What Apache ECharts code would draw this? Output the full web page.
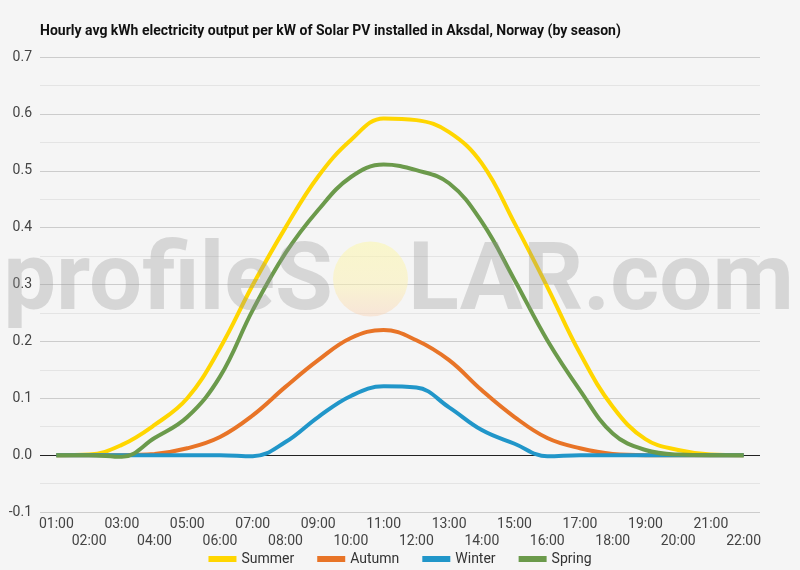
<!DOCTYPE html>
<html>
<head>
<meta charset="utf-8">
<script src="https://cdn.jsdelivr.net/npm/echarts@6/dist/echarts.min.js"></script>
<style>
html,body{margin:0;padding:0;background:#f5f5f5;}
#chart{width:800px;height:570px;}
</style>
</head>
<body>
<div id="chart"></div>
<script>
const hours = ['01:00','02:00','03:00','04:00','05:00','06:00','07:00','08:00','09:00','10:00','11:00',
  '12:00','13:00','14:00','15:00','16:00','17:00','18:00','19:00','20:00','21:00','22:00'];
const summer = [0, 0.001, 0.018, 0.053, 0.10, 0.188, 0.299, 0.40, 0.49, 0.554, 0.592,
  0.589, 0.568, 0.513, 0.408, 0.296, 0.179, 0.085, 0.028, 0.009, 0.001, 0];
const autumn = [0, 0, 0, 0.002, 0.012, 0.032, 0.07, 0.12, 0.167, 0.206, 0.22,
  0.202, 0.167, 0.114, 0.067, 0.03, 0.012, 0.002, 0, 0, 0, 0];
const winter = [0, 0, 0, 0, 0, 0, -0.002, 0.023, 0.067, 0.104, 0.121,
  0.119, 0.084, 0.044, 0.02, -0.002, 0, 0, 0, 0, 0, 0];
const spring = [0, 0, -0.003, 0.03, 0.067, 0.138, 0.255, 0.355, 0.431, 0.489, 0.511,
  0.501, 0.478, 0.41, 0.308, 0.202, 0.114, 0.038, 0.009, 0.001, 0, 0];
const seriesNames = ['Summer','Autumn','Winter','Spring'];
const seriesColors = ['#FFD600','#E87427','#2196C9','#6B9A4B'];
const title = 'Hourly avg kWh electricity output per kW of Solar PV installed in Aksdal, Norway (by season)';

const chart = echarts.init(document.getElementById('chart'));
const data = [summer, autumn, winter, spring];
const series = seriesNames.map((n, i) => ({
  name: n, type: 'line', data: data[i], smooth: 0.4, showSymbol: false, symbol: 'none',
  lineStyle: {width: 4, color: seriesColors[i]}, itemStyle: {color: seriesColors[i]}, z: 3 + i
}));
series.push({
  type: 'line', data: [], silent: true, z: 2,
  markLine: {silent: true, symbol: 'none', label: {show: false},
    lineStyle: {color: '#222', width: 1, type: 'solid'}, data: [{yAxis: 0}]}
});
const wmFont = 'bold 94px Roboto';
const wmFill = 'rgba(150,150,150,0.32)';
chart.setOption({
  backgroundColor: '#f5f5f5',
  animation: false,
  textStyle: {fontFamily: 'Roboto'},
  title: {text: title, left: 35, top: 19,
    textStyle: {fontFamily: 'Roboto', fontWeight: 'bold', fontSize: 14, color: '#111'}},
  grid: {left: 40, right: 40, top: 57, bottom: 58},
  legend: {top: 547, left: 'center', itemWidth: 28, itemHeight: 6, itemGap: 23, icon: 'rect',
    textStyle: {fontFamily: 'Roboto', fontSize: 14, color: '#333'}, data: seriesNames},
  xAxis: {
    type: 'category', data: hours, boundaryGap: true,
    axisLine: {show: false}, axisTick: {show: false},
    axisLabel: {interval: 0, margin: 4, fontFamily: 'Roboto', fontSize: 14, color: '#444', lineHeight: 17,
      formatter: (v, i) => (i % 2 === 0 ? v : '\n' + v)}
  },
  yAxis: {
    type: 'value', min: -0.1, max: 0.7, interval: 0.1,
    axisLine: {show: false}, axisTick: {show: false},
    axisLabel: {fontFamily: 'Roboto', fontSize: 14, color: '#444', margin: 8,
      formatter: v => v.toFixed(1)},
    splitLine: {lineStyle: {color: '#cccccc', width: 1}},
    minorTick: {show: false, splitNumber: 2},
    minorSplitLine: {show: true, lineStyle: {color: '#e4e4e4', width: 1}}
  },
  graphic: [
    {type: 'text', z: 100, silent: true, x: 333, y: 285,
      style: {text: 'profileS', font: wmFont, fill: wmFill, align: 'right', verticalAlign: 'middle'}},
    {type: 'circle', z: 99, silent: true, shape: {cx: 370.5, cy: 279, r: 37.5},
      style: {fill: new echarts.graphic.LinearGradient(0, 0, 0, 1, [
        {offset: 0, color: 'rgba(252,247,170,0.55)'},
        {offset: 0.6, color: 'rgba(252,240,175,0.5)'},
        {offset: 1, color: 'rgba(250,210,180,0.45)'}])}},
    {type: 'text', z: 100, silent: true, x: 408, y: 285,
      style: {text: 'LAR.com', font: wmFont, fill: wmFill, align: 'left', verticalAlign: 'middle'}}
  ],
  series: series
});
</script>
</body>
</html>
